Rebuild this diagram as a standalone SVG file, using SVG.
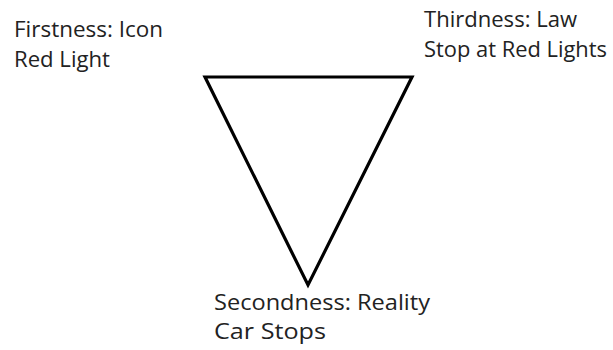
<svg xmlns="http://www.w3.org/2000/svg" width="613" height="350" viewBox="0 0 613 350">
<style>
text{font-family:"Open Sans","Liberation Sans",sans-serif;font-size:22px;fill:#222}
.tri{fill:none;stroke:#000;stroke-width:3.2;stroke-linejoin:miter}
</style>
<rect width="613" height="350" fill="#fff"/>
<g id="connectors">
<polygon class="tri" points="205,77 412,77 308,285"/>
</g>
<g id="firstness">
<text x="14" y="37" textLength="149" lengthAdjust="spacingAndGlyphs">Firstness: Icon</text>
<text x="14" y="67" textLength="96" lengthAdjust="spacingAndGlyphs">Red Light</text>
</g>
<g id="thirdness">
<text x="424" y="27" textLength="153" lengthAdjust="spacingAndGlyphs">Thirdness: Law</text>
<text x="424" y="57" textLength="183" lengthAdjust="spacingAndGlyphs">Stop at Red Lights</text>
</g>
<g id="secondness">
<text x="214" y="310" textLength="216" lengthAdjust="spacingAndGlyphs">Secondness: Reality</text>
<text x="214" y="339" textLength="112" lengthAdjust="spacingAndGlyphs">Car Stops</text>
</g>
</svg>
